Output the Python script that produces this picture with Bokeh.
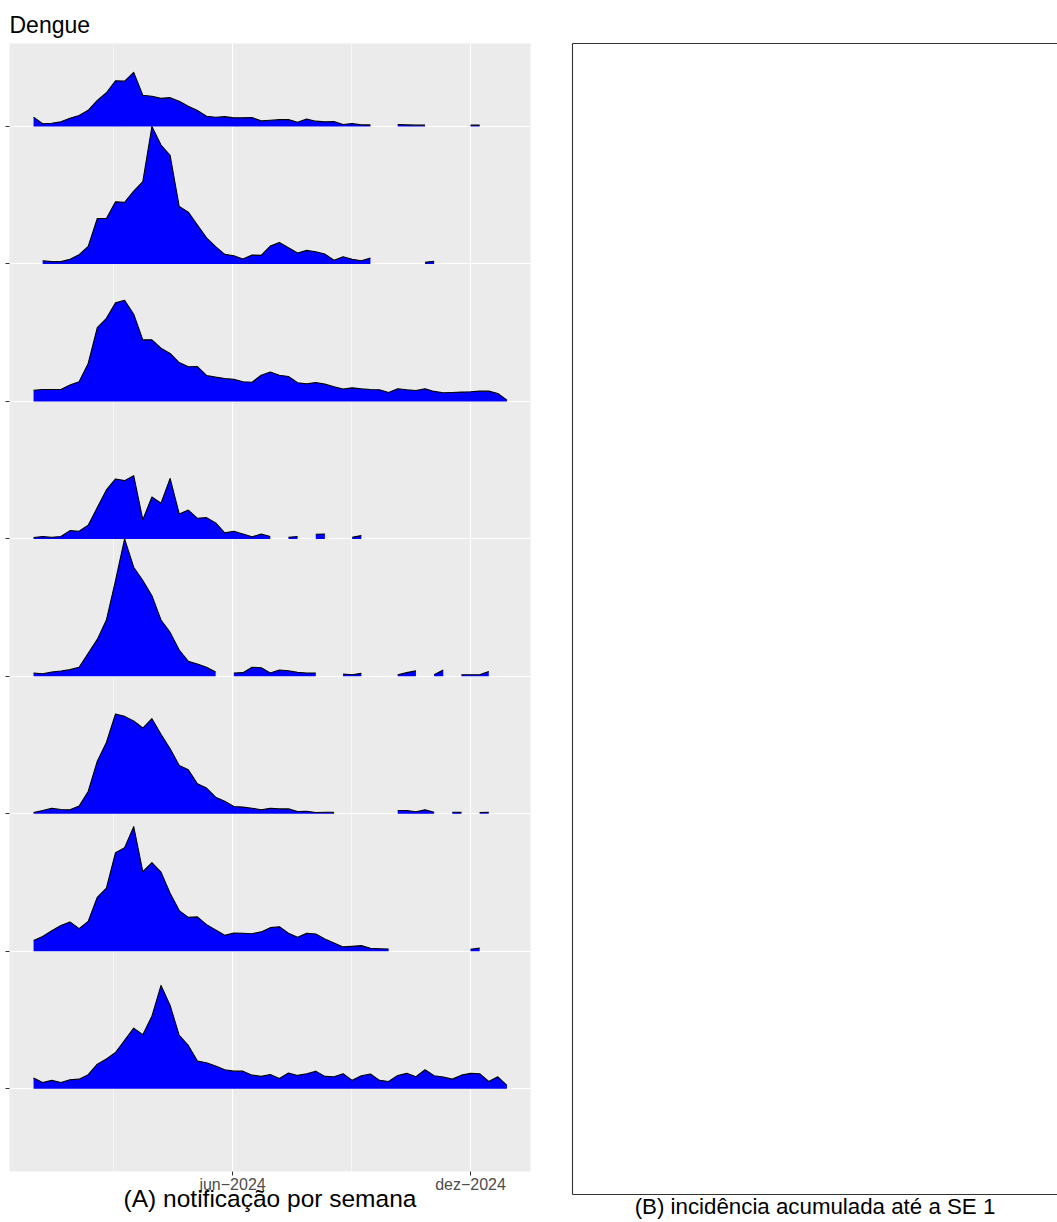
from datetime import datetime, timedelta
import math
from bokeh.plotting import figure
from bokeh.models import Range1d, FixedTicker, LinearAxis
from bokeh.layouts import row, column
from bokeh.embed import file_html
from bokeh.resources import INLINE

N = None
start = datetime(2023, 12, 31)
weeks = [start + timedelta(weeks=i) for i in range(53)]

# relative weekly notification heights (1.0 = one ridge step), None = missing
row1 = [0.068, 0.02, 0.024, 0.034, 0.06, 0.08, 0.118, 0.19, 0.246, 0.333, 0.33, 0.394,
        0.227, 0.22, 0.205, 0.21, 0.184, 0.147, 0.116, 0.075, 0.068, 0.072, 0.063, 0.063,
        0.065, 0.041, 0.046, 0.05, 0.05, 0.031, 0.055, 0.039, 0.034, 0.036, 0.015, 0.022,
        0.012, 0.012, N, N, 0.015, 0.012, 0.01, 0.01, N, N, N, N, 0.01, 0.01, N, N, N]
row2 = [N, 0.024, 0.017, 0.017, 0.034, 0.068, 0.128, 0.331, 0.331, 0.452, 0.449, 0.53,
        0.60, 1.0, 0.865, 0.79, 0.418, 0.377, 0.283, 0.19, 0.126, 0.07, 0.06, 0.036,
        0.065, 0.063, 0.13, 0.157, 0.118, 0.08, 0.099, 0.089, 0.072, 0.027, 0.053, 0.034,
        0.024, 0.043, N, N, 0.0, N, N, 0.012, 0.02, N, N, N, N, 0.0, N, 0.0, N]
row3 = [0.082, 0.087, 0.087, 0.087, 0.119, 0.143, 0.276, 0.537, 0.605, 0.717, 0.736, 0.634,
        0.448, 0.448, 0.387, 0.349, 0.283, 0.252, 0.254, 0.189, 0.177, 0.167, 0.162, 0.143,
        0.14, 0.191, 0.215, 0.191, 0.182, 0.136, 0.128, 0.138, 0.126, 0.107, 0.09, 0.099,
        0.092, 0.087, 0.085, 0.065, 0.092, 0.085, 0.08, 0.092, 0.073, 0.063, 0.065, 0.068,
        0.07, 0.075, 0.075, 0.058, 0.01]
row4 = [0.01, 0.017, 0.012, 0.017, 0.06, 0.056, 0.1, 0.228, 0.356, 0.436, 0.424, 0.46,
        0.14, 0.305, 0.259, 0.44, 0.182, 0.21, 0.15, 0.155, 0.116, 0.044, 0.056, 0.036,
        0.015, 0.036, 0.017, N, 0.012, 0.017, N, 0.034, 0.036, N, N, 0.012, 0.024,
        N, N, N, N, 0.0, N, N, N, N, N, N, N, N, N, N, N]
row5 = [0.024, 0.019, 0.032, 0.039, 0.049, 0.066, 0.167, 0.269, 0.41, 0.697, 1.0, 0.794,
        0.697, 0.587, 0.41, 0.32, 0.192, 0.109, 0.09, 0.066, 0.032, N, 0.024, 0.027,
        0.066, 0.063, 0.024, 0.046, 0.041, 0.029, 0.024, 0.024, N, N, 0.017, 0.012,
        0.022, N, N, N, 0.012, 0.027, 0.041, N, 0.012, 0.046, N, 0.012, 0.012, 0.012,
        0.036, N, N]
row6 = [0.01, 0.024, 0.041, 0.032, 0.029, 0.056, 0.163, 0.383, 0.519, 0.726, 0.709, 0.675,
        0.624, 0.692, 0.578, 0.473, 0.352, 0.32, 0.218, 0.187, 0.121, 0.092, 0.053, 0.049,
        0.041, 0.029, 0.041, 0.036, 0.036, 0.017, 0.019, 0.01, 0.012, 0.012, N, 0.0,
        N, N, 0.0, N, 0.024, 0.024, 0.015, 0.029, 0.012, N, 0.012, 0.012, N, 0.01,
        0.012, N, N]
row7 = [0.078, 0.107, 0.15, 0.187, 0.213, 0.165, 0.218, 0.393, 0.46, 0.717, 0.754, 0.907,
        0.58, 0.645, 0.575, 0.422, 0.296, 0.247, 0.25, 0.194, 0.155, 0.116, 0.133, 0.131,
        0.128, 0.141, 0.172, 0.179, 0.131, 0.102, 0.131, 0.126, 0.09, 0.061, 0.032, 0.036,
        0.041, 0.022, 0.019, 0.017, N, N, N, N, N, N, N, N, 0.015, 0.024, N, 0.0, N]
row8 = [0.078, 0.046, 0.061, 0.046, 0.065, 0.07, 0.102, 0.179, 0.216, 0.264, 0.352, 0.441,
        0.393, 0.528, 0.752, 0.606, 0.388, 0.315, 0.201, 0.189, 0.165, 0.138, 0.128, 0.128,
        0.099, 0.09, 0.104, 0.075, 0.114, 0.097, 0.109, 0.128, 0.09, 0.087, 0.109, 0.061,
        0.095, 0.107, 0.061, 0.053, 0.097, 0.112, 0.087, 0.138, 0.095, 0.085, 0.07, 0.099,
        0.112, 0.109, 0.053, 0.087, 0.024]
rows = [row1, row2, row3, row4, row5, row6, row7, row8]

major_dates = [datetime(2024, 6, 1), datetime(2024, 12, 1)]
major_labels = ["jun\u22122024", "dez\u22122024"]
minor_dates = [datetime(2024, 3, 1, 12), datetime(2024, 8, 31, 12)]

FONT = "Liberation Sans"


def ms(d):
    return (d - datetime(1970, 1, 1)).total_seconds() * 1000.0


x_lo = datetime(2024, 6, 1) - timedelta(days=171.5)
x_hi = datetime(2024, 6, 1) + timedelta(days=229.1)

pA = figure(width=556, height=1222, output_backend="svg", toolbar_location=None,
            x_axis_type="datetime", x_range=Range1d(x_lo, x_hi),
            y_range=Range1d(0.398, 8.604),
            min_border_left=9, min_border_right=26, min_border_top=43, min_border_bottom=51)
pA.background_fill_color = "#EBEBEB"
pA.border_fill_color = "white"
pA.outline_line_color = None
pA.title.text = "Dengue"
pA.title.text_font = FONT
pA.title.text_font_size = "23px"
pA.title.text_font_style = "normal"
pA.title.text_color = "black"
pA.title.standoff = 12

xa = pA.xaxis[0]
xa.ticker = FixedTicker(ticks=[ms(d) for d in major_dates], minor_ticks=[ms(d) for d in minor_dates])
xa.major_label_overrides = {ms(d): lab for d, lab in zip(major_dates, major_labels)}
xa.axis_line_color = None
xa.major_tick_in = 0
xa.major_tick_out = 4
xa.major_tick_line_color = "#333333"
xa.minor_tick_in = 0
xa.minor_tick_out = 0
xa.major_label_text_font = FONT
xa.major_label_text_font_size = "16px"
xa.major_label_text_color = "#4D4D4D"
xa.major_label_standoff = 0
xa.axis_label = "(A) notifica\u00e7\u00e3o por semana"
xa.axis_label_text_font = FONT
xa.axis_label_text_font_size = "24.5px"
xa.axis_label_text_font_style = "normal"
xa.axis_label_text_color = "black"
xa.axis_label_standoff = -11

ya = pA.yaxis[0]
ya.ticker = FixedTicker(ticks=list(range(1, 9)))
ya.major_label_overrides = {i: "" for i in range(1, 9)}
ya.major_label_text_color = None
ya.major_label_standoff = 0
ya.axis_line_color = None
ya.major_tick_in = 0
ya.major_tick_out = 4
ya.major_tick_line_color = "#333333"
ya.minor_tick_in = 0
ya.minor_tick_out = 0

pA.xgrid.grid_line_color = "white"
pA.xgrid.grid_line_width = 1.1
pA.xgrid.minor_grid_line_color = "white"
pA.xgrid.minor_grid_line_width = 0.55
pA.ygrid.grid_line_color = "white"
pA.ygrid.grid_line_width = 1.1

n_rows = len(rows)
for k, vals in enumerate(rows):
    base = n_rows - k
    seg = []
    for i, v in enumerate(vals + [None]):
        if v is not None:
            seg.append(i)
        else:
            if len(seg) >= 2:
                pA.varea(x=[weeks[j] for j in seg], y1=[base] * len(seg),
                         y2=[base + vals[j] for j in seg], fill_color="#0000FF")
            seg = []
    top = [base + v if v is not None else math.nan for v in vals]
    pA.line(x=weeks, y=top, line_color="black", line_width=1.1, line_join="round")

pB = figure(width=501, height=1222, output_backend="svg", toolbar_location=None,
            x_range=Range1d(0, 1), y_range=Range1d(0, 1),
            min_border_left=16, min_border_right=0, min_border_top=43, min_border_bottom=28)
pB.background_fill_color = "white"
pB.border_fill_color = "white"
pB.outline_line_color = None
pB.grid.visible = False
top_ax = LinearAxis()
pB.add_layout(top_ax, "above")
bottom_ax = pB.below[0]
left_ax = pB.left[0]
for ax in (top_ax, bottom_ax, left_ax):
    ax.ticker = FixedTicker(ticks=[])
    ax.axis_line_color = "#333333"
    ax.axis_line_width = 1.1
    ax.major_tick_out = 0
    ax.major_tick_in = 0
    ax.minor_tick_out = 0
    ax.minor_tick_in = 0
    ax.major_label_text_color = None
    ax.major_label_standoff = 0
bottom_ax.axis_label = "(B) incid\u00eancia acumulada at\u00e9 a SE 1"
bottom_ax.axis_label_text_font = FONT
bottom_ax.axis_label_text_font_size = "22.3px"
bottom_ax.axis_label_text_font_style = "normal"
bottom_ax.axis_label_text_color = "black"
bottom_ax.axis_label_standoff = -1

layout = row(column(pA), column(pB))
open("out.html", "w").write(file_html(layout, INLINE))
